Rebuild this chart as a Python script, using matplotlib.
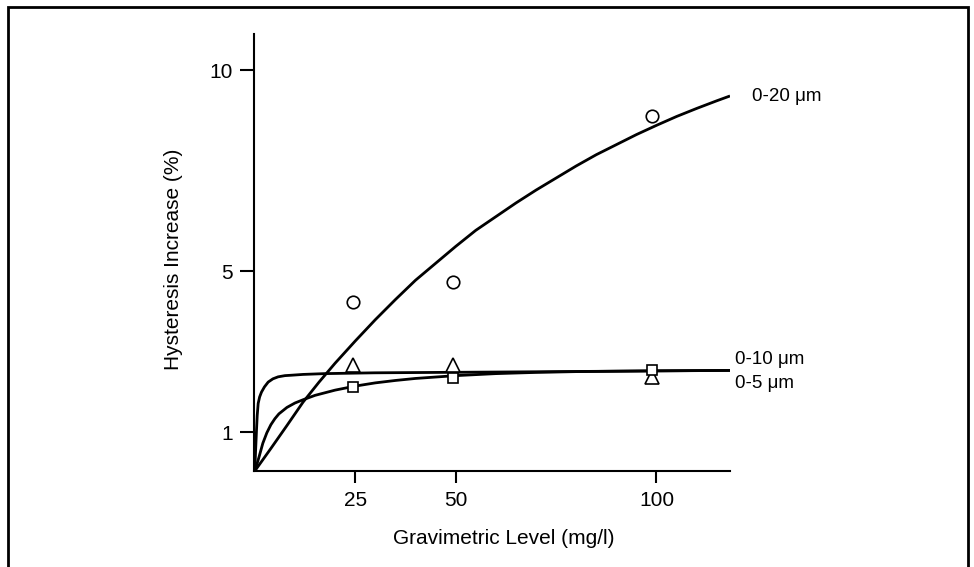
import matplotlib
matplotlib.use("Agg")
import matplotlib.pyplot as plt
from matplotlib.lines import Line2D

plt.rcParams['font.family'] = ['Liberation Sans', 'DejaVu Sans']

# Measured points
x_meas = [24.5, 49.3, 99.0]
y_020 = [4.23, 4.73, 8.85]
y_010 = [2.67, 2.67, 2.38]
y_05 = [2.13, 2.34, 2.56]

# Fitted curves
c020_x = [0, 4, 8, 12, 16, 20, 25, 30, 35, 40, 45, 50, 55, 60, 65, 70, 75, 80,
          85, 90, 95, 100, 105, 110, 115, 118.3]
c020_y = [0.04, 0.60, 1.17, 1.75, 2.25, 2.72, 3.27, 3.80, 4.30, 4.78, 5.20, 5.62,
          6.02, 6.36, 6.70, 7.02, 7.32, 7.62, 7.90, 8.15, 8.40, 8.63, 8.85, 9.05,
          9.24, 9.36]

c010_x = [0, 0.2, 0.42, 0.6, 0.84, 1.2, 1.66, 2.4, 3.33, 4.5, 5.8, 7.5, 9.1, 12,
          17.4, 29.8, 61.2, 118.3]
c010_y = [0.04, 0.55, 1.05, 1.42, 1.72, 1.88, 2.00, 2.13, 2.25, 2.33, 2.38, 2.41,
          2.42, 2.44, 2.46, 2.48, 2.50, 2.54]

c05_x = [0, 0.5, 1, 2, 3, 4, 5, 6, 8, 10, 12, 15, 20, 25, 30, 35, 40, 50, 60, 70,
         80, 90, 100, 118.3]
c05_y = [0.04, 0.20, 0.37, 0.73, 0.99, 1.19, 1.34, 1.46, 1.62, 1.73, 1.81, 1.92,
         2.05, 2.15, 2.23, 2.29, 2.34, 2.41, 2.46, 2.49, 2.51, 2.52, 2.53, 2.54]

xticks = [25, 50, 100]
yticks = [1, 5, 10]

fig = plt.figure(figsize=(9.74, 5.67), dpi=100)
ax = fig.add_axes([254/974, 1-471/567, (730-254)/974, (471-34)/567])

lw = 2.0
for cx, cy in [(c020_x, c020_y), (c010_x, c010_y), (c05_x, c05_y)]:
    ax.plot(cx, cy, color='black', lw=lw, solid_capstyle='butt', solid_joinstyle='round')

ax.plot(x_meas, y_020, linestyle='none', marker='o', ms=9, mfc='white', mec='black', mew=1.2)
ax.plot(x_meas, y_010, linestyle='none', marker='^', ms=9.5, mfc='white', mec='black', mew=1.2)
ax.plot(x_meas, y_05, linestyle='none', marker='s', ms=7.5, mfc='white', mec='black', mew=1.2)

ax.set_xlim(-0.2, 118.3)
ax.set_ylim(0.04, 10.9)
ax.set_xticks(xticks)
ax.set_yticks(yticks)
ax.set_xticklabels([str(v) for v in xticks])
ax.set_yticklabels([str(v) for v in yticks])

for s in ['top', 'right']:
    ax.spines[s].set_visible(False)
for s in ['left', 'bottom']:
    ax.spines[s].set_linewidth(1.5)
ax.tick_params(axis='y', direction='out', length=10, width=1.5, labelsize=15, pad=5)
ax.tick_params(axis='x', direction='out', length=8.5, width=1.5, labelsize=15, pad=6)

ax.set_xlabel('Gravimetric Level (mg/l)', fontsize=15)
ax.set_ylabel('Hysteresis Increase (%)', fontsize=15)
ax.xaxis.set_label_coords(0.524, -0.132)
ax.yaxis.set_label_coords(-0.150, 0.484)


def px(xp, yp):
    return (xp/974, 1-yp/567)


fig.text(*px(752, 97), '0-20 μm', fontsize=13.5, va='center', ha='left')
fig.text(*px(735, 360), '0-10 μm', fontsize=13.5, va='center', ha='left')
fig.text(*px(735, 383), '0-5 μm', fontsize=13.5, va='center', ha='left')

# Frame (left, top, right) around figure
bl, bt, br = 8/974, 1-7/567, 967.5/974
fig.add_artist(Line2D([bl, bl, br, br], [0, bt, bt, 0], transform=fig.transFigure,
                      color='black', lw=2.0, solid_joinstyle='miter'))

fig.savefig('out.png', dpi=100)
